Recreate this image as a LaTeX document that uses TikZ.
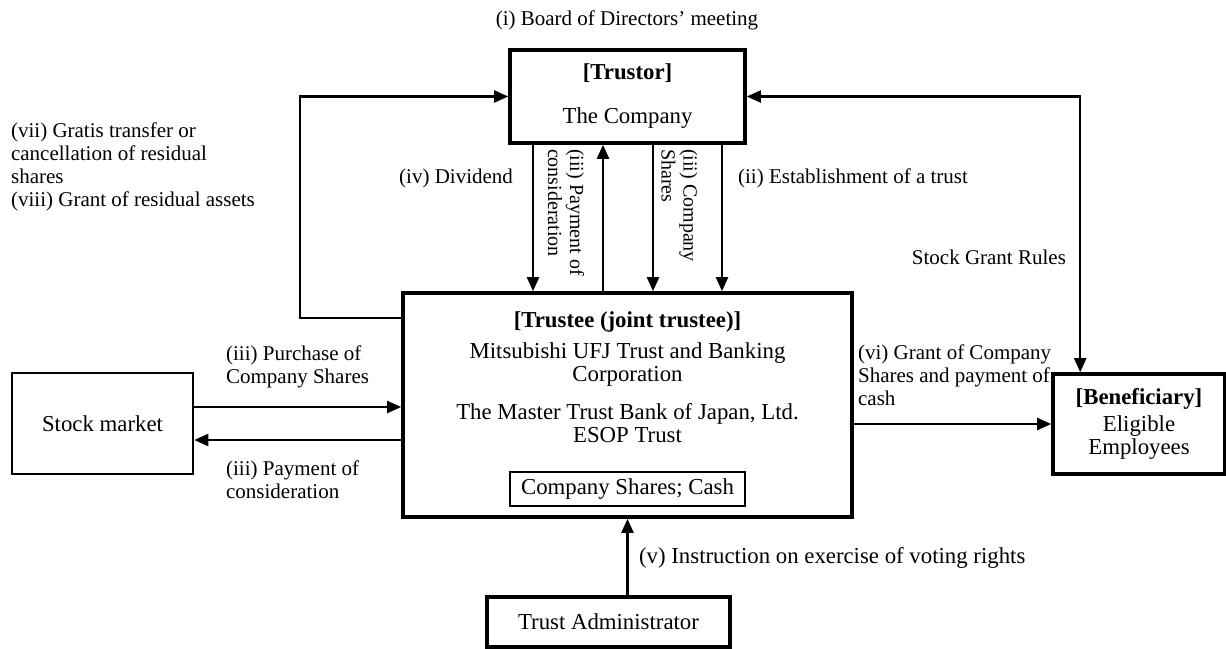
\documentclass[tikz,border=0pt]{standalone}
\usepackage{fontspec}
\setmainfont{Liberation Serif}
\usetikzlibrary{arrows.meta}
\tikzset{blk/.style={rectangle,draw,line width=1.8pt,inner sep=0pt,align=center},
  thinblk/.style={rectangle,draw,line width=1.3pt,inner sep=0pt,align=center},
  lbl/.style={inner sep=0pt,align=left,font=\fontsize{10.5}{11.5}\selectfont},
  vlbl/.style={lbl,rotate=-90,anchor=west,font=\fontsize{10}{11}\selectfont}}

\begin{document}
\begin{tikzpicture}[x=0.5pt,y=-0.5pt,>={Triangle[length=7pt,width=6pt]},line width=1.1pt,
    font=\fontsize{11.4}{11.5}\selectfont]
        \useasboundingbox (0,0) rectangle (1226,648);

        \node[blk,minimum width=117.5pt,minimum height=46.5pt] (Trustor) at (627.5,96.5) {\textbf{[Trustor]}\\[10.5pt]The Company};
        \node[blk,minimum width=224.5pt,minimum height=112pt] (Trustee) at (627.5,405) {};
        \node[inner sep=0pt] (trusteeHead) at (627.5,322) {\textbf{[Trustee (joint trustee)]}};
        \node[inner sep=0pt,align=center] (mufg) at (627.5,364.5) {Mitsubishi UFJ Trust and Banking\\Corporation};
        \node[inner sep=0pt,align=center] (mtbj) at (627.5,423.5) {The Master Trust Bank of Japan, Ltd.\\ESOP Trust};
        \node[thinblk,minimum width=117.5pt,minimum height=17pt] (assets) at (627.5,489) {Company Shares; Cash};
        \node[thinblk,minimum width=90.5pt,minimum height=50.5pt] (Stock) at (102.5,423.5) {Stock market};
        \node[blk,minimum width=86pt,minimum height=50pt] (Benef) at (1139,424) {\textbf{[Beneficiary]}\\[2pt]Eligible\\Employees};
        \node[blk,minimum width=121.5pt,minimum height=25pt] (Admin) at (608.5,622) {Trust Administrator};

        \node[lbl] (board) at (627,20) {(i) Board of Directors' meeting};
        \node[lbl,anchor=west] (residual) at (10,166.5) {(vii) Gratis transfer or\\cancellation of residual\\shares\\(viii) Grant of residual assets};
        \node[lbl,anchor=east] (dividend) at (514,178) {(iv) Dividend};
        \node[lbl,anchor=west] (establish) at (737,178) {(ii) Establishment of a trust};
        \node[lbl,anchor=east] (rules) at (1067,257) {Stock Grant Rules};
        \node[vlbl] (payLbl) at (566,148) {(iii) Payment of\\consideration};
        \node[vlbl] (sharesLbl) at (679.5,148) {(iii) Company\\Shares};
        \node[lbl,anchor=west] (purchase) at (225,366.5) {(iii) Purchase of\\Company Shares};
        \node[lbl,anchor=west] (payment) at (225,479.5) {(iii) Payment of\\consideration};
        \node[lbl,anchor=west] (grant) at (857,375) {(vi) Grant of Company\\Shares and payment of\\cash};
        \node[inner sep=0pt,anchor=west] (voting) at (638,558) {(v) Instruction on exercise of voting rights};

        % trustor <-> trustee
        \draw [->] ([xshift=-47.25pt]Trustor.south) -- ([xshift=-47.25pt]Trustee.north);
        \draw [->] ([xshift=-12.25pt]Trustee.north) -- ([xshift=-12.25pt]Trustor.south);
        \draw [->] ([xshift=12.75pt]Trustor.south) -- ([xshift=12.75pt]Trustee.north);
        \draw [->] ([xshift=47.25pt]Trustor.south) -- ([xshift=47.25pt]Trustee.north);
        \draw [->] ([yshift=43.5pt]Trustee.west) -- ++(-101,0) |- (Trustor.west);
        \draw [<->] (Trustor.east) -| ([xshift=14.5pt]Benef.north west);

        % market, beneficiary, administrator
        \coordinate (buy) at ([yshift=8.25pt]Stock.east);
        \coordinate (pay) at ([yshift=-8.25pt]Stock.east);
        \draw [->] (buy) -- (buy -| Trustee.west);
        \draw [->] (pay -| Trustee.west) -- (pay);
        \draw [->] (Trustee.east |- Benef.west) -- (Benef.west);
        \draw [->] (Admin.north -| Trustee.south) -- (Trustee.south);
    \end{tikzpicture}
\end{document}
